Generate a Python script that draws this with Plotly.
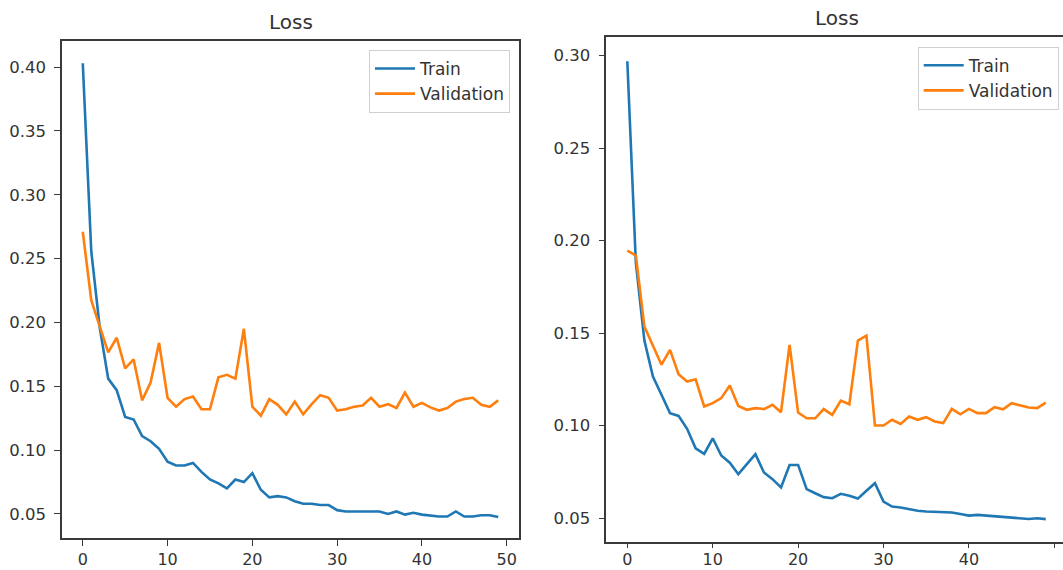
import plotly.graph_objects as go

epochs = list(range(50))

left_train = [0.403, 0.256, 0.196, 0.156, 0.147, 0.126, 0.124, 0.111, 0.107, 0.101,
              0.091, 0.088, 0.088, 0.090, 0.083, 0.077, 0.074, 0.070, 0.077, 0.075,
              0.082, 0.069, 0.063, 0.064, 0.063, 0.060, 0.058, 0.058, 0.057, 0.057,
              0.053, 0.052, 0.052, 0.052, 0.052, 0.052, 0.050, 0.052, 0.0495, 0.051,
              0.0495, 0.0485, 0.048, 0.048, 0.052, 0.048, 0.048, 0.049, 0.049, 0.0477]
left_val = [0.271, 0.2175, 0.197, 0.1765, 0.188, 0.164, 0.171, 0.139, 0.153, 0.184,
            0.141, 0.134, 0.140, 0.142, 0.132, 0.132, 0.157, 0.159, 0.156, 0.195,
            0.134, 0.127, 0.140, 0.1355, 0.128, 0.138, 0.128, 0.136, 0.143, 0.141,
            0.131, 0.132, 0.134, 0.135, 0.141, 0.134, 0.136, 0.133, 0.145, 0.134,
            0.137, 0.1335, 0.131, 0.133, 0.138, 0.140, 0.141, 0.1355, 0.134, 0.139]

right_train = [0.297, 0.188, 0.146, 0.1266, 0.1167, 0.1068, 0.1053, 0.0983, 0.0878, 0.0848,
               0.0932, 0.0839, 0.080, 0.0738, 0.0792, 0.0846, 0.0747, 0.0711, 0.0666, 0.0788,
               0.0788, 0.0657, 0.0635, 0.0614, 0.0608, 0.0632, 0.0621, 0.0606, 0.0648, 0.0689,
               0.059, 0.0563, 0.0558, 0.0549, 0.054, 0.0536, 0.0534, 0.0534, 0.0531, 0.0523,
               0.0514, 0.0518, 0.0514, 0.0513, 0.0505, 0.0505, 0.050, 0.0496, 0.050, 0.0495]
right_val = [0.1946, 0.192, 0.1536, 0.1437, 0.133, 0.141, 0.1278, 0.1239, 0.1251, 0.1104,
             0.1122, 0.1149, 0.1217, 0.1107, 0.1086, 0.1095, 0.109, 0.1113, 0.1073, 0.1437,
             0.1071, 0.104, 0.104, 0.109, 0.1059, 0.1136, 0.1116, 0.146, 0.1487, 0.1001,
             0.1001, 0.1032, 0.101, 0.105, 0.1032, 0.1046, 0.1023, 0.1014, 0.1091, 0.1062,
             0.1091, 0.1068, 0.1068, 0.11, 0.1089, 0.1122, 0.1109, 0.1098, 0.1095, 0.1125]

series_names = ["Train", "Validation"]
titles = ["Loss", "Loss"]
x_ticks = [0, 10, 20, 30, 40, 50]
left_y_ticks = [0.05, 0.10, 0.15, 0.20, 0.25, 0.30, 0.35, 0.40]
right_y_ticks = [0.05, 0.10, 0.15, 0.20, 0.25, 0.30]

BLUE = "#1f77b4"
ORANGE = "#ff7f0e"
INK = "#333333"
W, H = 1063, 570
LW = 2.6

fig = go.Figure()
fig.add_trace(go.Scatter(x=epochs, y=left_train, name=series_names[0], mode="lines",
                         line=dict(color=BLUE, width=LW), xaxis="x", yaxis="y",
                         legend="legend", legendgroup="a"))
fig.add_trace(go.Scatter(x=epochs, y=left_val, name=series_names[1], mode="lines",
                         line=dict(color=ORANGE, width=LW), xaxis="x", yaxis="y",
                         legend="legend", legendgroup="b"))
fig.add_trace(go.Scatter(x=epochs, y=right_train, name=series_names[0], mode="lines",
                         line=dict(color=BLUE, width=LW), xaxis="x2", yaxis="y2",
                         legend="legend2", legendgroup="c"))
fig.add_trace(go.Scatter(x=epochs, y=right_val, name=series_names[1], mode="lines",
                         line=dict(color=ORANGE, width=LW), xaxis="x2", yaxis="y2",
                         legend="legend2", legendgroup="d"))

axis_common = dict(showgrid=False, zeroline=False, showline=True, linecolor="#3a3a3a",
                   linewidth=1.5, ticks="outside", tickwidth=1.3, automargin=False,
                   tickcolor="#3a3a3a", tickfont=dict(size=16.5, color=INK, family="DejaVu Sans"))
x_tickfont = dict(size=16, color=INK, family="DejaVu Sans")

legend_common = dict(bgcolor="rgba(255,255,255,0.8)", bordercolor="#d0d0d0", borderwidth=1,
                     font=dict(size=17, color=INK, family="DejaVu Sans"),
                     itemwidth=40, tracegroupgap=0, traceorder="grouped")

fig.update_layout(
    template="none",
    width=W, height=H, autosize=False,
    margin=dict(l=0, r=0, t=0, b=0, pad=0),
    paper_bgcolor="white", plot_bgcolor="white",
    font=dict(family="DejaVu Sans", color=INK),
    xaxis=dict(domain=[62 / W, 519 / W], range=[-2.45, 51.45], tickvals=x_ticks, ticklen=6,
               anchor="y", mirror=True, ticklabelstandoff=0, **axis_common),
    yaxis=dict(domain=[1 - 538 / H, 1 - 41 / H], range=[0.0312, 0.4204], tickvals=left_y_ticks,
               ticklen=6, tickformat=".2f", anchor="x", mirror=True, ticklabelstandoff=5,
               **axis_common),
    xaxis2=dict(domain=[606.4 / W, 1.0], range=[-2.45, 51.02], tickvals=x_ticks, ticklen=5,
                anchor="y2", mirror=True, ticklabelstandoff=-3, **axis_common),
    yaxis2=dict(domain=[1 - 541.7 / H, 1 - 37.3 / H], range=[0.0373, 0.30995], tickvals=right_y_ticks,
                ticklen=6, tickformat=".2f", anchor="x2", mirror=False, ticklabelstandoff=5,
                **axis_common),
    legend=dict(x=510 / W, xanchor="right", y=1 - 50 / H, yanchor="top", **legend_common),
    legend2=dict(x=1058.7 / W, xanchor="right", y=1 - 46.7 / H, yanchor="top", **legend_common),
    annotations=[
        dict(text=titles[0], x=290.5 / W, y=1 - 22 / H, xref="paper", yref="paper",
             xanchor="center", yanchor="middle", showarrow=False,
             font=dict(size=20, color=INK, family="DejaVu Sans")),
        dict(text=titles[1], x=836.7 / W, y=1 - 18 / H, xref="paper", yref="paper",
             xanchor="center", yanchor="middle", showarrow=False,
             font=dict(size=20, color=INK, family="DejaVu Sans")),
    ],
)
fig.update_xaxes(tickfont=x_tickfont)

fig.write_html(
    "out.html",
    config={"responsive": False, "displayModeBar": False},
    post_script="document.body.style.margin='0';document.body.style.overflow='hidden';",
)
